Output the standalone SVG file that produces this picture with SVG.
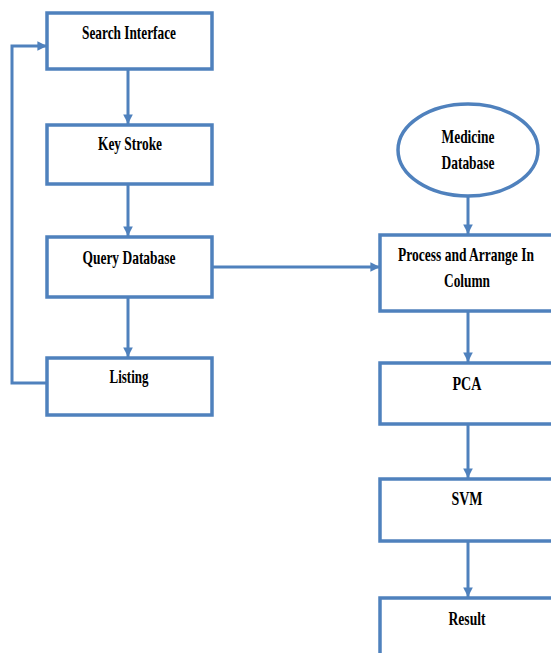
<svg xmlns="http://www.w3.org/2000/svg" width="551" height="653" viewBox="0 0 551 653">
<style>
.box{fill:#fff;stroke:#4F81BD;stroke-width:3.5}
.t{font-family:"Liberation Serif","Times New Roman",serif;font-weight:bold;font-size:19px;fill:#000;text-anchor:middle}
.c{fill:none;stroke:#4F81BD;stroke-width:3}
</style>
<defs>
<marker id="ah" viewBox="0 0 10 10" refX="10" refY="5" markerWidth="3.2" markerHeight="3.2" markerUnits="strokeWidth" orient="auto">
<path d="M0,0 L10,5 L0,10 z" fill="#4F81BD"/>
</marker>
</defs>
<rect width="551" height="653" fill="#fff"/>
<g id="connectors">
<path class="c" d="M128,69 V124" marker-end="url(#ah)"/>
<path class="c" d="M128,184 V236" marker-end="url(#ah)"/>
<path class="c" d="M128,297 V357" marker-end="url(#ah)"/>
<path class="c" d="M47,383 H12 V46 H47" marker-end="url(#ah)"/>
<path class="c" d="M212,267 H380" marker-end="url(#ah)"/>
<path class="c" d="M468,196 V234" marker-end="url(#ah)"/>
<path class="c" d="M468,311 V362" marker-end="url(#ah)"/>
<path class="c" d="M468,424 V478" marker-end="url(#ah)"/>
<path class="c" d="M468,541 V597" marker-end="url(#ah)"/>
</g>
<g id="search-interface">
<rect class="box" x="47" y="13" width="165" height="56"/>
<text class="t" x="129" y="39" textLength="94" lengthAdjust="spacingAndGlyphs">Search Interface</text>
</g>
<g id="key-stroke">
<rect class="box" x="47" y="125" width="165" height="59"/>
<text class="t" x="130" y="150" textLength="64" lengthAdjust="spacingAndGlyphs">Key Stroke</text>
</g>
<g id="query-database">
<rect class="box" x="47" y="237" width="165" height="60"/>
<text class="t" x="129" y="264" textLength="93" lengthAdjust="spacingAndGlyphs">Query Database</text>
</g>
<g id="listing">
<rect class="box" x="47" y="358" width="165" height="57"/>
<text class="t" x="129" y="383" textLength="39" lengthAdjust="spacingAndGlyphs">Listing</text>
</g>
<g id="medicine-database">
<ellipse class="box" cx="468" cy="150" rx="70" ry="46"/>
<text class="t" x="468" y="143" textLength="53" lengthAdjust="spacingAndGlyphs">Medicine</text>
<text class="t" x="468" y="169" textLength="53" lengthAdjust="spacingAndGlyphs">Database</text>
</g>
<g id="process-arrange">
<rect class="box" x="380" y="235" width="176" height="76"/>
<text class="t" x="466" y="261" textLength="136" lengthAdjust="spacingAndGlyphs">Process and Arrange In</text>
<text class="t" x="467" y="287" textLength="46" lengthAdjust="spacingAndGlyphs">Column</text>
</g>
<g id="pca">
<rect class="box" x="380" y="363" width="176" height="61"/>
<text class="t" x="467" y="390" textLength="29" lengthAdjust="spacingAndGlyphs">PCA</text>
</g>
<g id="svm">
<rect class="box" x="380" y="479" width="176" height="62"/>
<text class="t" x="467" y="505" textLength="31" lengthAdjust="spacingAndGlyphs">SVM</text>
</g>
<g id="result">
<rect class="box" x="380" y="598" width="176" height="70"/>
<text class="t" x="467" y="625" textLength="37" lengthAdjust="spacingAndGlyphs">Result</text>
</g>
</svg>
